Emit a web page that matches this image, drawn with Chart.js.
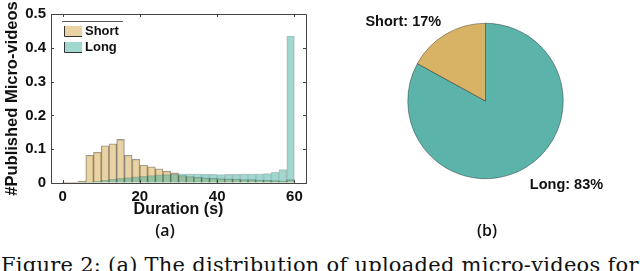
<!DOCTYPE html>
<html>
<head>
<meta charset="utf-8">
<script src="https://cdn.jsdelivr.net/npm/chart.js@4.4.1/dist/chart.umd.min.js"></script>
<style>
  html, body { margin: 0; padding: 0; background: #fff; }
  #page { position: relative; width: 640px; height: 271px; overflow: hidden; }
  #histBox { position: absolute; left: 0; top: 0; width: 320px; height: 225px; }
  #pieBox { position: absolute; left: 320px; top: 0; width: 320px; height: 215px; }
  .sub { position: absolute; top: 219px; width: 40px; text-align: center; font: 600 16px "Open Sans", sans-serif; color: #111; }
  #caption { position: absolute; left: 1px; top: 253px; font: 21px "DejaVu Serif", serif; letter-spacing: 0.25px; color: #111; white-space: nowrap; }
</style>
</head>
<body>
<div id="page">
  <div id="histBox"><canvas id="histChart" width="320" height="225"></canvas></div>
  <div id="pieBox"><canvas id="pieChart" width="320" height="215"></canvas></div>
  <div class="sub" style="left:145px">(a)</div>
  <div class="sub" style="left:467px">(b)</div>
  <div id="caption">Figure 2: (a) The distribution of uploaded micro-videos for</div>
</div>
<script>
// histogram bins (2 s wide), centre of each bin in seconds
const binCenters = [1, 3, 5, 7, 9, 11, 13, 15, 17, 19, 21, 23, 25, 27, 29,
                    31, 33, 35, 37, 39, 41, 43, 45, 47, 49, 51, 53, 55, 57, 59];
const shortShare = [0.001, 0.001, 0.006, 0.082, 0.091, 0.110, 0.116, 0.129, 0.082, 0.070,
                    0.053, 0.048, 0.042, 0.035, 0.030, 0.022, 0.019, 0.017, 0.015, 0.014,
                    0.013, 0.012, 0.011, 0.010, 0.010, 0.009, 0.008, 0.007, 0.006, 0.010];
const longShare = [0, 0, 0.001, 0.003, 0.005, 0.008, 0.011, 0.014, 0.016, 0.018,
                   0.020, 0.022, 0.024, 0.025, 0.026, 0.027, 0.027, 0.027, 0.026, 0.026,
                   0.025, 0.026, 0.026, 0.027, 0.027, 0.027, 0.028, 0.032, 0.040, 0.435];
const xTicks = [0, 20, 40, 60];
const yTicks = [0, 0.1, 0.2, 0.3, 0.4, 0.5];

// pie (b)
const pieLabels = ['Long', 'Short'];
const pieShares = [83, 17];

const shortFill = 'rgba(211,165,71,0.5)';
const longFill = 'rgba(65,177,159,0.5)';
const axisColor = '#444';
const boldFont = (size) => ({ family: '"Liberation Sans", Arial, sans-serif', size: size, weight: 'bold' });

// box around the axes + small inward ticks on every side, MATLAB style
const boxPlugin = {
    id: 'box',
    afterDraw(chart) {
        const { ctx, chartArea: a, scales } = chart;
        ctx.save();
        ctx.strokeStyle = axisColor;
        ctx.lineWidth = 1;
        ctx.beginPath();
        ctx.moveTo(a.left, a.top + 0.5);
        ctx.lineTo(a.right + 0.5, a.top + 0.5);
        ctx.lineTo(a.right + 0.5, a.bottom);
        xTicks.forEach(v => {
            const px = Math.round(scales.x.getPixelForValue(v)) + 0.5;
            ctx.moveTo(px, a.top); ctx.lineTo(px, a.top + 3);
            ctx.moveTo(px, a.bottom); ctx.lineTo(px, a.bottom - 3);
        });
        yTicks.forEach(v => {
            const py = Math.round(scales.y.getPixelForValue(v)) + 0.5;
            ctx.moveTo(a.left, py); ctx.lineTo(a.left + 3, py);
            ctx.moveTo(a.right, py); ctx.lineTo(a.right - 3, py);
        });
        ctx.stroke();

        // legend in the upper left corner of the plot
        const lx = a.left + 13, ly = a.top + 12;
        ctx.beginPath();
        ctx.strokeStyle = '#555';
        ctx.moveTo(a.left + 11, a.top + 7.5);
        ctx.lineTo(a.left + 72, a.top + 7.5);
        ctx.stroke();
        const entries = [['Short', shortFill], ['Long', longFill]];
        entries.forEach(([name, fill], i) => {
            const y = ly + i * 16;
            ctx.fillStyle = fill;
            ctx.fillRect(lx, y, 18, 10);
            ctx.strokeStyle = '#333';
            ctx.beginPath();
            ctx.moveTo(lx + 0.5, y); ctx.lineTo(lx + 0.5, y + 10.5); ctx.lineTo(lx + 18, y + 10.5);
            ctx.stroke();
            ctx.fillStyle = '#111';
            ctx.font = 'bold 13px "Liberation Sans", Arial, sans-serif';
            ctx.textBaseline = 'middle';
            ctx.fillText(name, lx + 21, y + 5.5);
        });
        ctx.restore();
    }
};

const histChart = new Chart(document.getElementById('histChart'), {
    type: 'bar',
    data: {
        datasets: [{
            label: 'Long',
            data: binCenters.map((x, i) => ({ x: x, y: longShare[i] })),
            backgroundColor: longFill,
            borderColor: 'rgba(0,0,0,0.18)',
            borderWidth: 0.6,
            grouped: false,
            barPercentage: 1,
            categoryPercentage: 1
        }, {
            label: 'Short',
            data: binCenters.map((x, i) => ({ x: x, y: shortShare[i] })),
            backgroundColor: shortFill,
            borderColor: 'rgba(0,0,0,0.4)',
            borderWidth: 0.7,
            grouped: false,
            barPercentage: 1,
            categoryPercentage: 1
        }]
    },
    options: {
        responsive: false,
        animation: false,
        devicePixelRatio: 1,
        layout: { padding: { top: 7, right: 14, left: 0, bottom: 0 } },
        plugins: { legend: { display: false }, tooltip: { enabled: false } },
        scales: {
            x: {
                type: 'linear',
                offset: false,
                min: -3,
                max: 63,
                afterBuildTicks: (scale) => { scale.ticks = xTicks.map(v => ({ value: v })); },
                afterFit: (scale) => { scale.height = 42; },
                border: { display: true, color: axisColor },
                grid: { drawOnChartArea: false, drawTicks: false, offset: false },
                ticks: { font: boldFont(15), color: '#111', padding: 5, maxRotation: 0 },
                title: {
                    display: true,
                    text: 'Duration (s)',
                    font: { ...boldFont(16), lineHeight: 1 },
                    color: '#111',
                    padding: { top: 0, bottom: 7 }
                }
            },
            y: {
                min: 0,
                max: 0.5,
                afterBuildTicks: (scale) => { scale.ticks = yTicks.map(v => ({ value: v })); },
                afterFit: (scale) => { scale.width = 51; },
                border: { display: true, color: axisColor },
                grid: { drawOnChartArea: false, drawTicks: false },
                ticks: {
                    font: boldFont(15),
                    color: '#111',
                    padding: 5,
                    callback: (v) => v === 0 ? '0' : v.toFixed(1)
                },
                title: {
                    display: true,
                    text: '#Published Micro-videos',
                    font: { ...boldFont(16.5), lineHeight: 1 },
                    color: '#111',
                    padding: { top: 4, bottom: 0 }
                }
            }
        }
    },
    plugins: [boxPlugin]
});

// text labels outside the pie, next to the middle of each slice
const pieLabelPlugin = {
    id: 'pieLabels',
    afterDraw(chart) {
        const { ctx } = chart;
        const arcs = chart.getDatasetMeta(0).data;
        ctx.save();
        ctx.font = 'bold 14.5px "Liberation Sans", Arial, sans-serif';
        ctx.fillStyle = '#111';
        arcs.forEach((arc, i) => {
            const mid = (arc.startAngle + arc.endAngle) / 2;
            const r = arc.outerRadius * 1.12;
            const x = arc.x + Math.cos(mid) * r;
            const y = arc.y + Math.sin(mid) * r;
            ctx.textAlign = x < arc.x ? 'right' : 'left';
            ctx.textBaseline = 'middle';
            ctx.fillText(pieLabels[i] + ': ' + pieShares[i] + '%', x, y + (y < arc.y ? -4 : 9));
        });
        ctx.restore();
    }
};

const pieChart = new Chart(document.getElementById('pieChart'), {
    type: 'pie',
    data: {
        labels: pieLabels,
        datasets: [{
            data: pieShares,
            backgroundColor: ['#5BB3AA', '#D8B265'],
            borderColor: 'rgba(0,0,0,0.7)',
            borderWidth: 0.5
        }]
    },
    options: {
        responsive: false,
        animation: false,
        devicePixelRatio: 1,
        layout: { padding: { left: 11, top: 23, bottom: 36, right: 0 } },
        plugins: { legend: { display: false }, tooltip: { enabled: false } }
    },
    plugins: [pieLabelPlugin]
});
</script>
</body>
</html>
